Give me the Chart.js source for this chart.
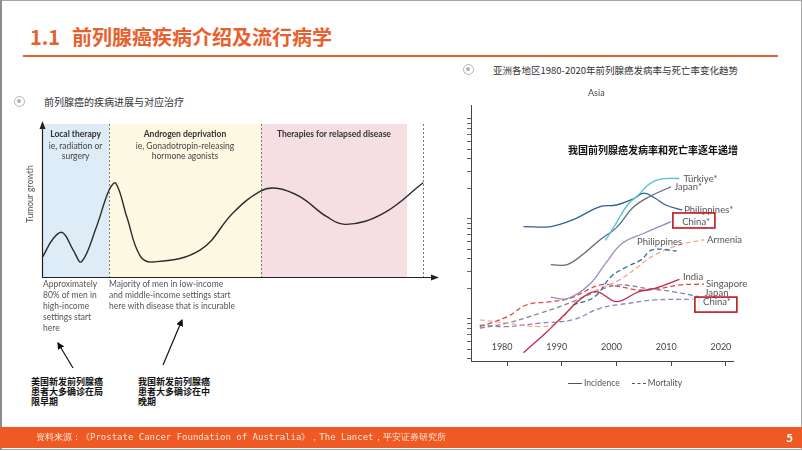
<!DOCTYPE html>
<html>
<head>
<meta charset="utf-8">
<script src="https://cdn.jsdelivr.net/npm/chart.js@4.4.0/dist/chart.umd.min.js"></script>
<style>
    html, body { margin: 0; padding: 0; }
    body { width: 802px; height: 451px; position: relative; overflow: hidden; background: #fff; font-family: "Noto Sans CJK SC", sans-serif; }
    .abs { position: absolute; white-space: nowrap; }
    .frame { position: absolute; left: 0; top: 0; width: 802px; height: 450px; box-sizing: border-box; border: 1px solid #a6a6a6; border-left: 2px solid #8c8c8c; }
    .title { left: 30px; top: 25px; font-size: 20px; line-height: 24px; font-weight: bold; color: #e8602b; }
    .title span { margin-left: 12px; }
    .rule { position: absolute; left: 23px; top: 55px; width: 755px; height: 2px; background: #e8602b; }
    .bullet { position: absolute; width: 11px; height: 11px; border: 1.5px solid #b3b3b3; border-radius: 50%; box-sizing: border-box; }
    .bullet::after { content: ""; position: absolute; left: 2px; top: 2px; width: 4px; height: 4px; border-radius: 50%; background: #b3b3b3; }
    .sub { font-size: 10px; line-height: 12px; color: #333; }
    .note { font-family: Lato, sans-serif; font-size: 8.5px; line-height: 11px; color: #555; }
    .cn { font-size: 9px; line-height: 9.8px; font-weight: bold; color: #111; }
    .footer { position: absolute; left: 0; top: 427px; width: 802px; height: 21px; background: #ef5a24; }
    .src { left: 36px; top: 427px; font-family: "DejaVu Sans Mono", monospace; font-size: 9px; line-height: 21px; color: #fde3d5; }
    .page { left: 786px; top: 427px; font-family: Lato, sans-serif; font-size: 12px; line-height: 21px; font-weight: bold; color: #fff; }
    .legend { left: 568px; top: 377px; font-family: Lato, sans-serif; font-size: 8.5px; line-height: 12px; color: #555; }
    .legend i { display: inline-block; width: 14px; vertical-align: middle; border-top: 1px solid #555; margin-right: 2px; }
    .legend i.d { border-top: 1px dashed #555; margin-left: 12px; }
    canvas { position: absolute; }
</style>
</head>
<body>
<div class="frame"></div>
<div class="abs title">1.1<span>前列腺癌疾病介绍及流行病学</span></div>
<div class="rule"></div>

<div class="bullet" style="left:14px;top:96px"></div>
<div class="abs sub" style="left:44px;top:96px">前列腺癌的疾病进展与对应治疗</div>
<div class="bullet" style="left:463px;top:64px"></div>
<div class="abs sub" style="left:493px;top:64px;font-size:9.5px">亚洲各地区1980-2020年前列腺癌发病率与死亡率变化趋势</div>

<div style="position:absolute;left:20px;top:110px;width:425px;height:180px"><canvas id="stage-chart"></canvas></div>
<div style="position:absolute;left:455px;top:85px;width:330px;height:310px"><canvas id="asia-chart"></canvas></div>

<div class="abs note" style="left:43px;top:279px">Approximately<br>80% of men in<br>high-income<br>settings start<br>here</div>
<div class="abs note" style="left:109px;top:279px">Majority of men in low-income<br>and middle-income settings start<br>here with disease that is incurable</div>
<div class="abs cn" style="left:31px;top:377px">美国新发前列腺癌<br>患者大多确诊在局<br>限早期</div>
<div class="abs cn" style="left:138px;top:377px">我国新发前列腺癌<br>患者大多确诊在中<br>晚期</div>

<svg style="position:absolute;left:0;top:0" width="802" height="451">
    <defs>
        <marker id="ah" markerWidth="6" markerHeight="6" refX="5" refY="3" orient="auto">
            <path d="M0,0 L6,3 L0,6 Z" fill="#111"/>
        </marker>
    </defs>
    <line x1="73" y1="368" x2="58" y2="343" stroke="#111" stroke-width="1.2" marker-end="url(#ah)"/>
    <line x1="163" y1="365" x2="182" y2="320" stroke="#111" stroke-width="1.2" marker-end="url(#ah)"/>
</svg>

<div class="abs" style="left:588px;top:87px;font-family:Lato,sans-serif;font-size:9px;line-height:12px;color:#444">Asia</div>
<div class="abs" style="left:568px;top:143px;font-size:10px;line-height:14px;font-weight:bold;color:#111">我国前列腺癌发病率和死亡率逐年递增</div>
<div class="abs legend"><i></i>Incidence<i class="d"></i>Mortality</div>

<div class="footer"></div>
<div class="abs src">资料来源：《Prostate Cancer Foundation of Australia》，The Lancet，平安证券研究所</div>
<div class="abs page">5</div>

<script>
// ---- left diagram: disease course vs treatment stage ----
const stageNames = ["Local therapy", "Androgen deprivation", "Therapies for relapsed disease"];
const stageNotes = [["ie, radiation or", "surgery"], ["ie, Gonadotropin-releasing", "hormone agonists"], []];
const stageBounds = [[0, 17], [17, 55.4], [55.4, 92.4]];
const stageDividers = [17, 55.4, 96.5];
const growthX = [0.2, 2.9, 5.2, 7.9, 10, 13.8, 17, 18.7, 21.5, 24.8, 28.1, 40, 48.4, 55.2, 59.4, 65.3, 72.1, 77.1, 86.4, 96.5];
const growthY = [13.3, 25.3, 29, 17.6, 10, 32.9, 56.9, 61.2, 39, 14, 9.8, 17.6, 42, 56, 58, 52.5, 39.4, 34.4, 41.6, 61.6];

// ---- right chart: Asia incidence / mortality per 100,000 ----
const yearTicks = [1980, 1990, 2000, 2010, 2020];
const rateTicks = [0.4, 0.5, 0.6, 0.7, 0.8, 0.9, 1, 2, 3, 4, 5, 6, 7, 8, 9, 10, 20, 30, 40, 50, 60, 70, 80, 90, 100];

const turkiyeIncYears = [1998, 2000, 2002, 2004, 2006, 2008, 2011.5];
const turkiyeInc = [6.1, 9.2, 13.8, 17.4, 22.4, 25.1, 25.4];
const japanIncYears = [1988, 1991, 1994, 1997, 2000, 2003, 2006, 2010];
const japanInc = [3.5, 3.5, 4.5, 6.2, 8.2, 13.0, 16.7, 21.0];
const philippinesIncYears = [1983, 1988, 1992, 1997, 2000, 2003, 2005, 2007, 2009, 2012];
const philippinesInc = [8.4, 8.4, 9.8, 13.3, 13.8, 15.8, 18.1, 16.2, 13.8, 12.3];
const chinaIncYears = [1988, 1991, 1995, 1998, 2001, 2005, 2010];
const chinaInc = [1.65, 1.6, 2.2, 3.6, 5.7, 7.2, 9.4];
const indiaIncYears = [1983, 1987, 1990, 1994, 1996.5, 2000, 2004, 2007, 2011.5];
const indiaInc = [0.46, 0.72, 1.04, 1.67, 1.87, 1.49, 1.87, 2.02, 2.49];

const philippinesMortYears = [1992, 1996, 1999, 2002, 2004.5, 2006.5, 2011];
const philippinesMort = [1.38, 1.67, 2.65, 3.35, 3.9, 4.9, 4.8];
const armeniaMortYears = [1975, 1980, 1986, 1989, 1993, 1997, 2000.5, 2004, 2007, 2011.5, 2016];
const armeniaMort = [0.98, 0.91, 0.84, 0.91, 1.55, 2.02, 2.45, 3.35, 4.37, 5.5, 6.2];
const singaporeMortYears = [1975, 1980, 1983.5, 1988, 1991.5, 1997, 2000.5, 2004, 2008, 2011.5, 2016];
const singaporeMort = [0.84, 1.05, 1.38, 1.49, 1.61, 2.19, 2.11, 1.95, 2.02, 2.19, 2.23];
const japanMortYears = [1975, 1980, 1986, 1992, 1997, 2000.5, 2005.5, 2010.5, 2015];
const japanMort = [0.81, 0.91, 1.14, 1.49, 1.95, 2.19, 2.02, 1.87, 1.67];
const chinaMortYears = [1975, 1980, 1986, 1992, 1997, 2002, 2007, 2014];
const chinaMort = [0.87, 0.84, 0.91, 0.98, 1.28, 1.43, 1.55, 1.57];

const toPoints = (xs, ys) => xs.map((x, i) => ({ x, y: ys[i] }));

// stage diagram
const stagePlugin = {
    id: "stages",
    beforeDatasetsDraw(chart) {
        const { ctx, chartArea: a, scales: { x } } = chart;
        const fills = ["#ddecf6", "#fdf8e2", "#f5dfe2"];
        ctx.save();
        stageBounds.forEach((b, i) => {
            ctx.fillStyle = fills[i];
            ctx.fillRect(x.getPixelForValue(b[0]), a.top, x.getPixelForValue(b[1]) - x.getPixelForValue(b[0]), a.bottom - a.top);
        });
        ctx.strokeStyle = "#7a7a7a";
        ctx.lineWidth = 1;
        ctx.setLineDash([2, 2]);
        stageDividers.forEach(v => {
            const px = Math.round(x.getPixelForValue(v)) + 0.5;
            ctx.beginPath();
            ctx.moveTo(px, a.top);
            ctx.lineTo(px, a.bottom);
            ctx.stroke();
        });
        ctx.restore();
    },
    afterDraw(chart) {
        const { ctx, chartArea: a, scales: { x } } = chart;
        ctx.save();
        // axes with arrow heads
        ctx.strokeStyle = "#222";
        ctx.fillStyle = "#222";
        ctx.lineWidth = 1.2;
        ctx.beginPath();
        ctx.moveTo(a.left + 0.5, a.bottom);
        ctx.lineTo(a.left + 0.5, a.top + 2);
        ctx.moveTo(a.left, a.bottom + 0.5);
        ctx.lineTo(a.right - 2, a.bottom + 0.5);
        ctx.stroke();
        ctx.beginPath();
        ctx.moveTo(a.left + 0.5, a.top - 3);
        ctx.lineTo(a.left - 2.5, a.top + 5);
        ctx.lineTo(a.left + 3.5, a.top + 5);
        ctx.fill();
        ctx.beginPath();
        ctx.moveTo(a.right + 2, a.bottom + 0.5);
        ctx.lineTo(a.right - 6, a.bottom - 2.5);
        ctx.lineTo(a.right - 6, a.bottom + 3.5);
        ctx.fill();

        // stage labels
        ctx.textAlign = "center";
        ctx.textBaseline = "middle";
        stageBounds.forEach((b, i) => {
            const cx = x.getPixelForValue((b[0] + b[1]) / 2);
            ctx.fillStyle = "#333";
            ctx.font = "bold 8.5px Lato";
            ctx.fillText(stageNames[i], cx, a.top + 10);
            ctx.fillStyle = "#444";
            ctx.font = "8.5px Lato";
            stageNotes[i].forEach((t, j) => ctx.fillText(t, cx, a.top + 22 + j * 10.5));
        });

        // y title
        ctx.translate(a.left - 12, a.top + 70);
        ctx.rotate(-Math.PI / 2);
        ctx.fillStyle = "#555";
        ctx.font = "8.5px Lato";
        ctx.fillText("Tumour growth", 0, 0);
        ctx.restore();
    }
};

new Chart(document.getElementById("stage-chart"), {
    type: "line",
    data: {
        datasets: [{
            data: toPoints(growthX, growthY),
            borderColor: "#2b2b2b",
            borderWidth: 1.4,
            pointRadius: 0,
            fill: false,
            tension: 0.4
        }]
    },
    options: {
        responsive: true,
        maintainAspectRatio: false,
        animation: false,
        layout: { padding: { left: 22, right: 8, top: 14, bottom: 13 } },
        plugins: { legend: { display: false }, tooltip: { enabled: false } },
        scales: {
            x: { type: "linear", min: 0, max: 100, display: false },
            y: { type: "linear", min: 0, max: 100, display: false }
        }
    },
    plugins: [stagePlugin]
});

// Asia chart
const series = [
    { name: "Türkiye*", years: turkiyeIncYears, values: turkiyeInc, color: "#4fc2d4", dashed: false, tag: { dx: 4, dy: 0 } },
    { name: "Japan*", years: japanIncYears, values: japanInc, color: "#5f6a76", dashed: false, tag: { dx: 3, dy: 0 } },
    { name: "Philippines*", years: philippinesIncYears, values: philippinesInc, color: "#2f5f95", dashed: false, tag: { dx: 2, dy: 0 } },
    { name: "China*", years: chinaIncYears, values: chinaInc, color: "#9d8ac6", dashed: false, tag: { dx: 11, dy: 0, box: [1.7, -8.7, 42, 15] } },
    { name: "India", years: indiaIncYears, values: indiaInc, color: "#c1294b", dashed: false, tag: { dx: 3.5, dy: -2 } },
    { name: "Philippines", years: philippinesMortYears, values: philippinesMort, color: "#2d6c95", dashed: true, tag: { dx: -17, dy: -9, align: "center" } },
    { name: "Armenia", years: armeniaMortYears, values: armeniaMort, color: "#f3a88b", dashed: true, tag: { dx: 3, dy: 0 } },
    { name: "Singapore", years: singaporeMortYears, values: singaporeMort, color: "#df474c", dashed: true, tag: { dx: 2, dy: 0 } },
    { name: "Japan", years: japanMortYears, values: japanMort, color: "#7a8ca3", dashed: true, tag: { dx: 6, dy: -4 } },
    { name: "China*", years: chinaMortYears, values: chinaMort, color: "#8c84b8", dashed: true, tag: { dx: 10, dy: 2.5, box: [1.8, -2.3, 42, 15] } }
];

const asiaPlugin = {
    id: "asiaLabels",
    afterDraw(chart) {
        const { ctx, chartArea: a, scales: { x } } = chart;
        ctx.save();
        ctx.font = "9px Lato";
        ctx.fillStyle = "#444";
        ctx.textAlign = "center";
        ctx.textBaseline = "middle";
        yearTicks.forEach(yr => ctx.fillText(String(yr), x.getPixelForValue(yr) - 5, a.bottom - 14));

        ctx.font = "9.5px Lato";
        ctx.textBaseline = "middle";
        series.forEach((s, i) => {
            const pts = chart.getDatasetMeta(i).data;
            const last = pts[pts.length - 1];
            const t = s.tag;
            ctx.fillStyle = "#555";
            ctx.textAlign = t.align || "left";
            ctx.fillText(s.name, last.x + t.dx, last.y + t.dy);
            if (t.box) {
                ctx.strokeStyle = "#c0161c";
                ctx.lineWidth = 1.6;
                ctx.strokeRect(last.x + t.box[0], last.y + t.box[1], t.box[2], t.box[3]);
            }
        });
        ctx.restore();
    }
};

new Chart(document.getElementById("asia-chart"), {
    type: "line",
    data: {
        datasets: series.map(s => ({
            label: s.name,
            data: toPoints(s.years, s.values),
            borderColor: s.color,
            borderWidth: 1.3,
            borderDash: s.dashed ? [5, 3] : [],
            pointRadius: 0,
            fill: false,
            tension: 0.4
        }))
    },
    options: {
        responsive: true,
        maintainAspectRatio: false,
        animation: false,
        layout: { padding: { left: 12, right: 52, top: 20, bottom: 29 } },
        plugins: { legend: { display: false }, tooltip: { enabled: false } },
        scales: {
            x: {
                type: "linear",
                min: 1973.4,
                max: 2021.3,
                afterBuildTicks: axis => { axis.ticks = yearTicks.map(v => ({ value: v })); },
                grid: { drawOnChartArea: false, drawTicks: true, tickLength: 5, color: "#444" },
                border: { display: true, color: "#444", width: 1 },
                ticks: { display: false }
            },
            y: {
                type: "logarithmic",
                min: 0.38,
                max: 138,
                afterBuildTicks: axis => { axis.ticks = rateTicks.map(v => ({ value: v })); },
                grid: { drawOnChartArea: false, drawTicks: true, tickLength: 4, color: "#666" },
                border: { display: true, color: "#444", width: 1 },
                ticks: { display: false }
            }
        }
    },
    plugins: [asiaPlugin]
});
</script>
</body>
</html>
